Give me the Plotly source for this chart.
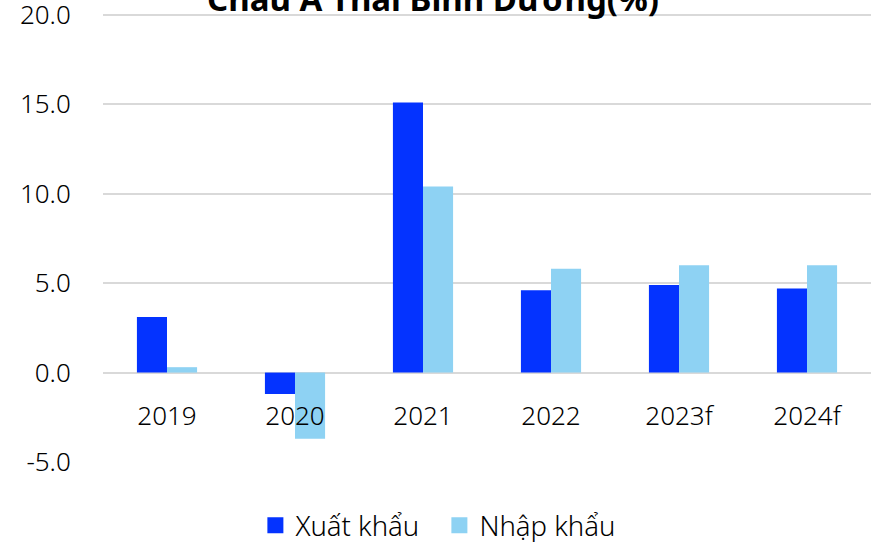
import plotly.graph_objects as go

categories = ["2019", "2020", "2021", "2022", "2023f", "2024f"]
xuat_khau = [3.1, -1.2, 15.1, 4.6, 4.9, 4.7]
nhap_khau = [0.3, -3.7, 10.4, 5.8, 6.0, 6.0]
series_names = ["Xuất khẩu", "Nhập khẩu"]
title_text = "Châu Á Thái Bình Dương(%)"
y_ticks = [-5, 0, 5, 10, 15, 20]
y_tick_labels = ["-5.0", "0.0", "5.0", "10.0", "15.0", "20.0"]

C_EXP = "#0433FF"
C_IMP = "#8ED2F3"
FONT = "Noto Sans"

fig = go.Figure()
fig.add_trace(go.Bar(x=categories, y=xuat_khau, name=series_names[0],
                     marker=dict(color=C_EXP, line=dict(width=0)), showlegend=False))
fig.add_trace(go.Bar(x=categories, y=nhap_khau, name=series_names[1],
                     marker=dict(color=C_IMP, line=dict(width=0)), showlegend=False))
# legend entries
for nm, c in zip(series_names, [C_EXP, C_IMP]):
    fig.add_trace(go.Scatter(x=[None], y=[None], mode="markers", name=nm,
                             marker=dict(symbol="square", size=18, color=c)))

fig.update_layout(
    width=876, height=542,
    margin=dict(l=103, r=5, t=13, b=80, autoexpand=False),
    paper_bgcolor="white", plot_bgcolor="white",
    barmode="group", bargap=0.53, bargroupgap=0,
    font=dict(family=FONT, color="#000000", size=24),
    showlegend=True,
    legend=dict(orientation="h", x=0.438, xanchor="center", y=-0.141, yanchor="middle",
                font=dict(size=27.5, family=FONT, weight=300), itemsizing="trace",
                entrywidth=139),
    xaxis=dict(anchor="free", position=(0 + 5) / 25.1, showline=False, showgrid=False,
               ticks="outside", ticklen=20, tickcolor="rgba(0,0,0,0)", automargin=False,
               tickfont=dict(size=26, family=FONT, weight=300), zeroline=False),
    yaxis=dict(range=[-5, 20.1], tickvals=y_ticks, ticktext=y_tick_labels, automargin=False,
               showgrid=True, gridcolor="#D9D9D9", gridwidth=2,
               zeroline=True, zerolinecolor="#D9D9D9", zerolinewidth=2,
               showline=False, ticks="outside", ticklen=26, tickcolor="rgba(0,0,0,0)",
               ticklabeloverflow="allow",
               tickfont=dict(size=26, family=FONT, weight=300)),
    annotations=[dict(text="<b>" + title_text + "</b>", xref="paper", yref="paper",
                      x=0.43, y=0.978, xanchor="center", yanchor="bottom",
                      showarrow=False, font=dict(size=33, family=FONT, color="#000000"))],
)

fig.write_html("out.html", post_script="document.body.style.margin='0';",
               config={"displayModeBar": False})
